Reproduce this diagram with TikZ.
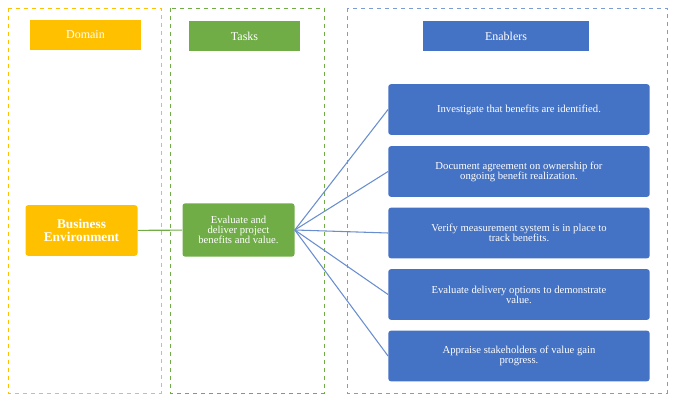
\documentclass[tikz,border=0pt]{standalone}
\usepackage{fontspec}
\setmainfont{Liberation Serif}
\usetikzlibrary{positioning}
\definecolor{dyellow}{HTML}{FFC000}
\definecolor{dgreen}{HTML}{70AD47}
\definecolor{dblue}{HTML}{4472C4}
\tikzset{%
  colbox/.style={draw, dashed, thin},
  head/.style={fill=#1, text=white, minimum height=23pt, font=\small},
  item/.style={fill=#1, text=white, rounded corners=2pt, align=center, font=\footnotesize, inner sep=2pt},
  link/.style={draw=#1, thick}
}
\begin{document}
\begin{tikzpicture}[x=0.75pt, y=-0.75pt]
  \useasboundingbox (0,0) rectangle (674,402);

% dashed columns
\draw [colbox, dyellow] (8,8) rectangle (161,393);
\draw [colbox, dgreen] (170,8) rectangle (324,393);
\draw [colbox, dblue!70] (347,8) rectangle (667,393);

% headers
\node [head=dyellow, minimum width=83pt] (domain) at (85.5,35) {Domain};
\node [head=dgreen, minimum width=83pt] (tasks) at (244.5,36) {Tasks};
\node [head=dblue, minimum width=125pt] (enablers) at (506,36) {Enablers};

% main boxes
\node [item=dyellow, minimum width=84pt, minimum height=38pt, font=\normalsize\bfseries] (env) at (81.5,230.5) {Business\\[-2pt]Environment};
\node [item=dgreen, minimum width=84pt, minimum height=40pt] (task) at (238.5,230) {Evaluate and\\[-2pt]deliver project\\[-2pt]benefits and value.};

% enablers
\foreach \n / \y / \txt in {1/109.5/{Investigate that benefits are identified.},
  2/171.5/{Document agreement on ownership for\\[-2pt]ongoing benefit realization.},
  3/233/{Verify measurement system is in place to\\[-2pt]track benefits.},
  4/294.5/{Evaluate delivery options to demonstrate\\[-2pt]value.},
  5/356/{Appraise stakeholders of value gain\\[-2pt]progress.}}{
  \node [item=dblue, minimum width=196pt, minimum height=38pt] (E\n) at (519,\y) {\txt};
}

\draw [link=dgreen] (env) -- (task);
\foreach \n in {1,...,5}{
  \draw [link=dblue!80] (task.east) -- (E\n.west);
}
\end{tikzpicture}
\end{document}
